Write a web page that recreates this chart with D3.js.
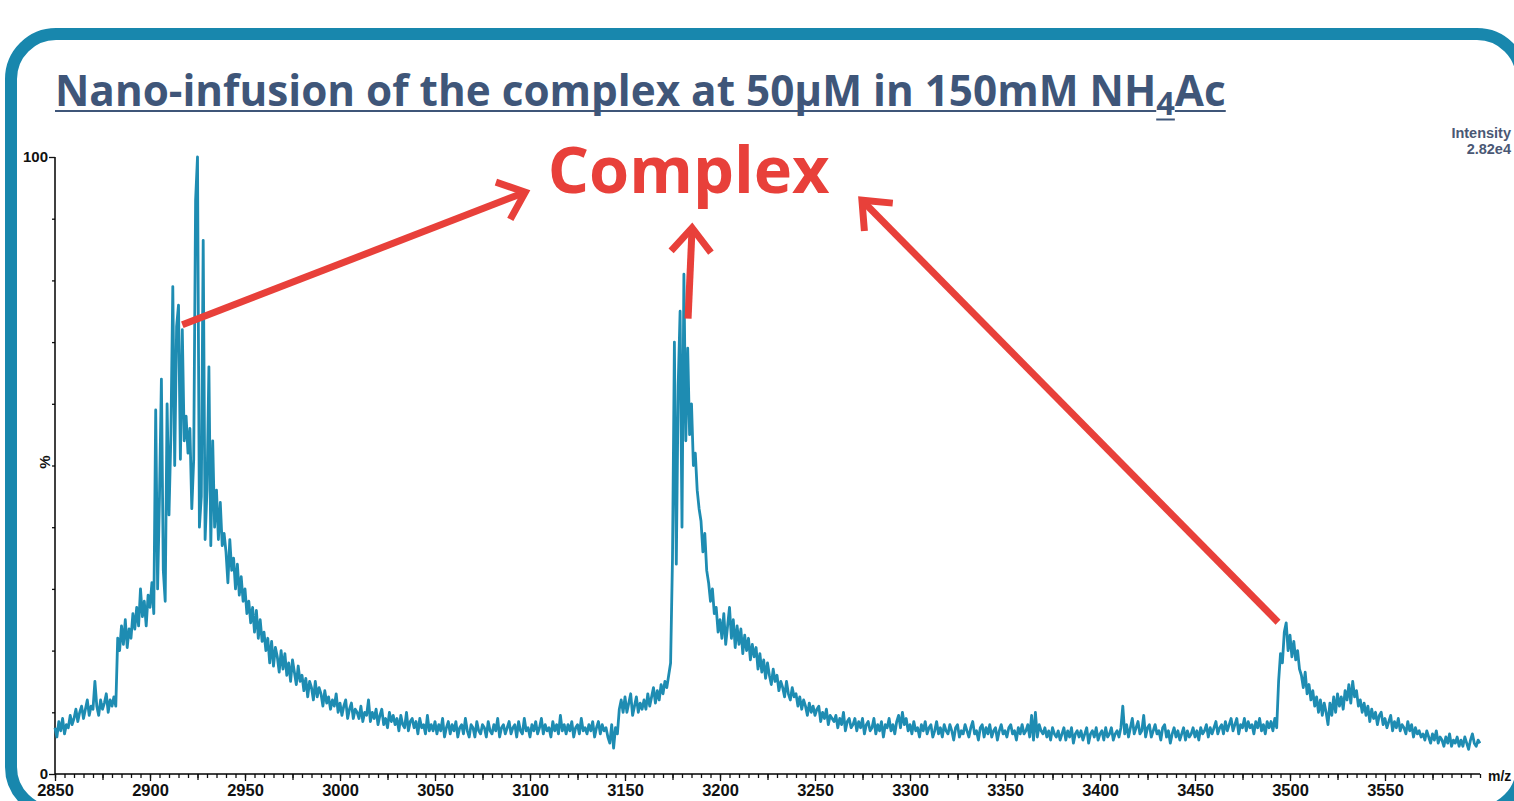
<!DOCTYPE html>
<html><head><meta charset="utf-8">
<script src="https://cdn.jsdelivr.net/npm/d3@7"></script>
<style>html,body{margin:0;padding:0;background:#fff;overflow:hidden}</style>
</head><body>
<svg id="c" width="1514" height="801"></svg>
<script>
// ---- data ----
const mzStart = 2850;
const mzStep = 1;
const intensity = [
7.5,6,8.5,7,9,6.5,8,7.5,9.5,8,
9,10.5,8.5,10,11,9,10.5,12,9.5,11,
10.5,15,11,9.5,12,10.5,11.5,13,10,12,
11,12.5,11,22,20,24,21,25,20.5,23.5,
22,26,23.5,27,24,30,25.5,28,24,29,
27,31,26,59,30,45,64,33,28,60,
42,55,79,50,72.5,76,51,72,54,58,
52,56,43,51,93,100,40,45,86.5,38,
46,66,37,54,40,46,38,44,37,39,
36,31,38,33,35,30,34,29,32,28,
30,26,28,24.5,27,23,26.5,22,25,21.5,
23,20,22,18,21.5,17.5,20.5,19,16.5,20,
17,19.5,16,18,15,18.5,16.5,14.5,17.5,15,
16,13.5,15.5,12.5,15,14,12,15,12.5,14,
13,11,13.5,11.5,12.5,10.5,12,11,13,10,
11.5,9.5,11,12,9,10.5,11.5,9,10.5,10,
9,11,8.5,10,9.5,12,8.5,10,9,10.5,
8,9.5,10.5,8,9,7.5,10,8.5,9.5,8,
9,7,9.5,8,7.5,10,7,8.5,9,7.5,
8.5,6.5,9,7.5,8,6.5,9.5,7,8,7,
8.5,6.5,8,7,9,6,7.5,8.5,6.5,8,
7,8.5,6,7.5,8,6.5,9,7,6,8,
7.5,6,8.5,7,6.5,8,7.5,6,8.5,7,
6.5,8,7,9,6,7.5,8,6.5,7.5,8.5,
6.5,7.5,8,6,8.5,7,6.5,9,7,7.5,
6,8,7,8.5,6.5,7.5,9,6.5,8,7,
7.5,6,8.5,7,8,6.5,9.5,7,8,6.5,
8,7,8.5,6,7.5,8,6.5,9,7,7.5,
6.5,8,7,8.5,6,7.5,8.5,6.5,8,7,
7.5,6,5,8,4.2,7.5,6.5,10.5,12,10,
12.5,10,11.5,13,9.5,11,12.5,10,11.5,10.5,
12,10.5,13,11,12.5,14,11.5,13.5,12,14.5,
13,15,14,16,18,35,70,34,63,75,
40,81,54,69,55,60,50,52,46,43,
41,36,39,33,31,28,30,26,27,23,
25,22,26,21,24,27,22,25,20.5,24,
21,23.5,19.5,22.5,20,22,18.5,21,19,20.5,
17,19.5,16.5,18.5,15.5,18,16,14.5,17,15,
16,13.5,15,14,12.5,15,13,12,14,12.5,
13,11,12.5,10.5,12,11,9.5,11.5,10,11,
9.5,10.5,11,8.5,10,9,10.5,8,9.5,9,
8.5,9.5,7.5,9,8,10,7,8.5,9,7.5,
8,9,7,8.5,7.5,9,6.5,8,8.5,7,
7.5,9,6.5,8,7,8.5,6,8,7.5,9,
7,8,6.5,8.5,9.5,7.5,10,8,9,7,
8,6.5,8.5,7,7.5,6,8,7,8.5,6.5,
7.5,8,6,7,8.5,6.5,7.5,6,8,7,
6.5,8,7,5.5,7.5,8,6,7,6.5,8,
7,6,7.5,8.5,6.5,7,5.5,7.5,8,6,
7.5,6.5,8,6,7,7.5,5.5,7,8,6.5,
7,6,7.5,8,6.5,7,5.5,7.5,6.5,8,
6.5,7,8,6,9.5,5.5,10,6,8,7,
6.5,7.5,6,7,5.5,7.5,6.5,6,7,5.5,
6.5,7.5,5.5,7,6,7.5,5,6.5,7,6,
7,5.5,6.5,7.5,5,6.5,7,6,7.5,5.5,
6.5,7,5.5,7.5,6,6.5,7.5,5.5,6.5,7,
6,7.5,11,6.5,8,6,7.5,9,6.5,7.5,
8.5,6.5,7,9.5,6,7.5,8,6,7,8,
6.5,7,5.5,7.5,8,6,7,5,6.5,7.5,
6,7,5.5,6.5,7.5,5.5,7,6,6.5,7.5,
6,7,5.5,7.5,6.5,7,8,6,7.5,6.5,
7.5,8.5,6.5,7.5,8,6.5,8.5,7,8,9,
7,8,9,6.5,8,7.5,9,7,8.5,7.5,
8,6.5,8.5,7.5,9,7,8,6.5,8.5,7.5,
8.5,7,9,7.5,15,19.5,18,23,24.5,20,
22.5,19,21.5,18.5,20,17,16,14,16.5,13,
14.5,12,13.5,11,12.5,10,12,9.5,11.5,10,
8,11.5,9.5,12.5,10,13,11,12.5,10.5,13.5,
12,14.5,11.5,15,12.5,13.5,11,12,10,11.5,
9.5,11,8.5,10.5,9,10,8,9.5,10,8,
9,7.5,8.5,9.5,7,8.5,7.5,9,7,8,
7.5,6.5,8.5,7,8,6,7.5,6.5,7,6,
6.5,5.5,7,6,5,6.5,5.5,7,5,6,
5.5,4.5,6,5,6.5,4.5,5.5,5,6,4.5,
5.5,4.5,6,5,4,5.5,6.5,5,4.5,5.5,
5
];
const xDomain = [2850, 3600];
const yDomain = [0, 100];
const xMajorTicks = [2850,2900,2950,3000,3050,3100,3150,3200,3250,3300,3350,3400,3450,3500,3550];
const yLabelTicks = [0, 100];
const titleMain = "Nano-infusion of the complex at 50μM in 150mM NH";
const titleSub = "4";
const titleEnd = "Ac";
const annotationText = "Complex";
const annotationAnchor = [3183.5, 94.2];
const intensityLines = ["Intensity", "2.82e4"];
// arrows: [from m/z, from %, to m/z, to %]
const arrows = [
  [2917, 72.8, 3097.5, 94.3],
  [3183.2, 73.8, 3185.3, 88.5],
  [3493.7, 24.6, 3274.7, 93.0]
];

// ---- drawing ----
const svg = d3.select("#c");
const teal = "#1887ad";
const lineColor = "#1e8cb2";
const red = "#e8403a";
const titleColor = "#3f5679";

svg.append("rect").attr("width",1514).attr("height",801).attr("fill","#fff");
svg.append("rect").attr("x",11).attr("y",34).attr("width",1511).attr("height",778)
  .attr("rx",45).attr("fill","#fff").attr("stroke",teal).attr("stroke-width",12);

const x = d3.scaleLinear().domain(xDomain).range([55,1480]);
const y = d3.scaleLinear().domain(yDomain).range([774,157]);

// x axis: minor, medium, major
const axFont = "'Liberation Sans', Arial, sans-serif";
const gx = svg.append("g").attr("transform","translate(0,774)");
gx.append("g").call(d3.axisBottom(x).tickValues(d3.range(2850,3601,5)).tickSize(4).tickFormat("").tickSizeOuter(0))
  .call(g=>g.select(".domain").remove());
gx.append("g").call(d3.axisBottom(x).tickValues(d3.range(2875,3600,50)).tickSize(6).tickFormat("").tickSizeOuter(0))
  .call(g=>g.select(".domain").remove());
gx.append("g").call(d3.axisBottom(x).tickValues(xMajorTicks).tickSize(7).tickPadding(3).tickFormat(d3.format("d")).tickSizeOuter(0))
  .call(g=>g.select(".domain").attr("d","M55,0H1480").attr("stroke-width",1.5));
gx.selectAll("line").attr("stroke","#111").attr("stroke-width",1.3);
gx.selectAll("text").attr("font-family",axFont).attr("font-weight","bold").attr("font-size",16.5).attr("fill","#111");

// y axis
const gy = svg.append("g").attr("transform","translate(55,0)");
gy.append("g").call(d3.axisLeft(y).tickValues(d3.range(10,100,10)).tickSize(3).tickFormat("").tickSizeOuter(0))
  .call(g=>g.select(".domain").remove());
gy.append("g").call(d3.axisLeft(y).tickValues(yLabelTicks).tickSize(6).tickPadding(1).tickFormat(d3.format("d")).tickSizeOuter(0))
  .call(g=>g.select(".domain").attr("d","M0,157V774").attr("stroke-width",1.5));
gy.selectAll("line").attr("stroke","#111").attr("stroke-width",1.3);
gy.selectAll("text").attr("font-family",axFont).attr("font-weight","bold").attr("font-size",15).attr("fill","#111");

svg.append("text").attr("transform","translate(50,462) rotate(-90)").attr("text-anchor","middle")
  .attr("font-family",axFont).attr("font-weight","bold").attr("font-size",15).attr("fill","#111").text("%");
svg.append("text").attr("x",1488).attr("y",781).attr("font-family",axFont).attr("font-weight","bold")
  .attr("font-size",14).attr("fill","#111").text("m/z");

svg.selectAll("text.int").data(intensityLines).join("text").attr("class","int")
  .attr("x",1511).attr("y",(d,i)=>138+i*16).attr("text-anchor","end")
  .attr("font-family",axFont).attr("font-weight","bold").attr("font-size",14.5).attr("fill","#4a5874").text(d=>d);

// spectrum
const line = d3.line().x((d,i)=>x(mzStart+i*mzStep)).y(d=>y(d));
svg.append("path").datum(intensity).attr("d",line).attr("fill","none")
  .attr("stroke",lineColor).attr("stroke-width",2.8).attr("stroke-linejoin","round");

// title
const tFont = "'Open Sans', sans-serif";
const title = svg.append("text").attr("x",55).attr("y",106).attr("font-family",tFont)
  .attr("font-weight",700).attr("font-size",39).attr("fill",titleColor);
title.append("tspan").text(titleMain);
const sub = title.append("tspan").attr("dy",9).attr("font-size",30).text(titleSub);
title.append("tspan").attr("dy",-9).text(titleEnd);
let tl = title.node().getComputedTextLength();
const fs = 39*1171/tl;
title.attr("font-size",fs);
sub.attr("font-size",fs*0.77);
const n = titleMain.length;
const e4 = title.node().getExtentOfChar(n);
const endX = 55 + title.node().getComputedTextLength();
svg.append("line").attr("x1",55).attr("x2",e4.x).attr("y1",111).attr("y2",111).attr("stroke",titleColor).attr("stroke-width",2);
svg.append("line").attr("x1",e4.x).attr("x2",e4.x+e4.width).attr("y1",119.5).attr("y2",119.5).attr("stroke",titleColor).attr("stroke-width",2);
svg.append("line").attr("x1",e4.x+e4.width).attr("x2",endX).attr("y1",111).attr("y2",111).attr("stroke",titleColor).attr("stroke-width",2);

// annotation
const comp = svg.append("text").attr("x",x(annotationAnchor[0])).attr("y",y(annotationAnchor[1]))
  .attr("text-anchor","middle").attr("font-family",tFont).attr("font-weight",700)
  .attr("font-size",64).attr("fill",red).text(annotationText);
const cl = comp.node().getComputedTextLength();
comp.attr("font-size",64*282/cl);

const ag = svg.append("g").attr("stroke",red).attr("stroke-width",7).attr("fill","none")
  .attr("stroke-linecap","butt").attr("stroke-linejoin","miter");
arrows.forEach(a=>{
  const x1=x(a[0]), y1=y(a[1]), x2=x(a[2]), y2=y(a[3]);
  const ang = Math.atan2(y2-y1, x2-x1);
  const L=31, h=40*Math.PI/180;
  const p1=[x2-L*Math.cos(ang-h), y2-L*Math.sin(ang-h)];
  const p2=[x2-L*Math.cos(ang+h), y2-L*Math.sin(ang+h)];
  ag.append("line").attr("x1",x1).attr("y1",y1).attr("x2",x2).attr("y2",y2);
  ag.append("path").attr("d",`M${p1[0]},${p1[1]}L${x2},${y2}L${p2[0]},${p2[1]}`);
});
</script>
</body></html>
